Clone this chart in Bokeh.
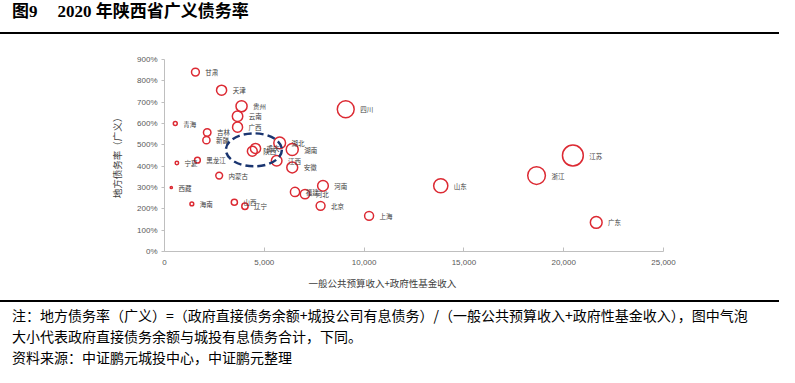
import math
from bokeh.plotting import figure
from bokeh.models import (Range1d, FixedTicker, NumeralTickFormatter, Title, Div,
                          ColumnDataSource)
from bokeh.layouts import column
from bokeh.embed import file_html
from bokeh.resources import INLINE
from bokeh.core.properties import value

# ---------------- data ----------------
provinces = ["甘肃", "天津", "贵州", "云南", "广西", "四川", "青海", "吉林", "新疆",
             "宁夏", "黑龙江", "内蒙古", "西藏", "海南", "山西", "辽宁", "陕西", "重庆",
             "湖北", "湖南", "江西", "安徽", "河南", "福建", "河北", "北京", "上海",
             "山东", "浙江", "江苏", "广东"]
# 一般公共预算收入+政府性基金收入（亿元）
income = [1550, 2860, 3860, 3660, 3660, 9080, 540, 2140, 2100,
          620, 1650, 2740, 340, 1370, 3500, 4030, 4400, 4560,
          5770, 6400, 5620, 6400, 7940, 6540, 7040, 7820, 10250,
          13840, 18640, 20460, 21630]
# 地方债务率（广义）
debt_ratio = [8.41, 7.56, 6.81, 6.34, 5.83, 6.67, 6.00, 5.58, 5.22,
              4.15, 4.28, 3.56, 3.00, 2.23, 2.31, 2.12, 4.70, 4.83,
              5.09, 4.78, 4.25, 3.94, 3.08, 2.79, 2.69, 2.14, 1.67,
              3.08, 3.56, 4.50, 1.36]
# 政府直接债务余额与城投有息债务合计（亿元，气泡大小）
debt_total = [13036, 21622, 26287, 23204, 21338, 60564, 3240, 11941, 10962,
              2573, 7062, 9754, 1020, 3055, 8085, 8544, 20680, 22025,
              29369, 30592, 23885, 25216, 24455, 18247, 18938, 16735, 17118,
              42627, 66358, 92070, 29417]

x_ticks = [0, 5000, 10000, 15000, 20000, 25000]
y_ticks = [0, 1, 2, 3, 4, 5, 6, 7, 8, 9]

title_text = "2020 年陕西省广义债务率"
fig_no = "图9"
x_title = "一般公共预算收入+政府性基金收入"
y_title = "地方债务率（广义）"
note_lines = [
    "注：地方债务率（广义）=（政府直接债务余额+城投公司有息债务）/（一般公共预算收入+政府性基金收入），图中气泡",
    "大小代表政府直接债务余额与城投有息债务合计，下同。",
    "资料来源：中证鹏元城投中心，中证鹏元整理",
]
highlight = ["陕西", "重庆"]

# ---------------- derived drawing columns ----------------
radius_px = [math.sqrt(d / 850.0) for d in debt_total]
src = ColumnDataSource(dict(
    x=income, y=debt_ratio, name=provinces,
    size=[2 * r for r in radius_px],
    xoff=[r + 6 for r in radius_px],
))

RED = "#dc2a33"
CJK = "Noto Sans CJK SC"
W = 779

p = figure(width=W, height=266, x_range=Range1d(0, 25000), y_range=Range1d(0, 9),
           output_backend="svg", toolbar_location=None,
           min_border_left=164, min_border_right=W - 663, min_border_top=25,
           min_border_bottom=49, margin=(0, 0, 0, 0))
p.outline_line_color = None
p.background_fill_color = "white"
p.border_fill_color = "white"
p.xgrid.visible = False
p.ygrid.visible = False

p.scatter("x", "y", size="size", marker="circle", source=src,
          fill_color=None, line_color=RED, line_width=1.5)
p.text("x", "y", text="name", x_offset="xoff", source=src,
       text_baseline="middle", text_align="left", text_font_size="6.5px",
       text_color="#404040", text_font=value(CJK))

hi = [provinces.index(n) for n in highlight]
cx = sum(income[i] for i in hi) / len(hi)
cy = sum(debt_ratio[i] for i in hi) / len(hi)
p.ellipse(x=[cx], y=[cy], width=56, height=33, width_units="screen",
          height_units="screen", fill_color=None, line_color="#1a3570",
          line_width=2.5, line_dash="8 4")

# axes
xa = p.xaxis[0]
xa.ticker = FixedTicker(ticks=x_ticks)
xa.formatter = NumeralTickFormatter(format="0,0")
xa.axis_line_color = "#bfbfbf"
xa.major_tick_line_color = "#bfbfbf"
xa.major_tick_in = 4
xa.major_tick_out = 0
xa.minor_tick_line_color = None
xa.major_label_text_font_size = "8px"
xa.major_label_text_color = "#595959"
xa.major_label_text_font = "Liberation Sans"
xa.major_label_standoff = 8

ya = p.yaxis[0]
ya.ticker = FixedTicker(ticks=y_ticks)
ya.formatter = NumeralTickFormatter(format="0%")
ya.axis_line_color = "#bfbfbf"
ya.major_tick_line_color = "#bfbfbf"
ya.major_tick_in = 0
ya.major_tick_out = 3
ya.minor_tick_line_color = None
ya.major_label_text_font_size = "8px"
ya.major_label_text_color = "#595959"
ya.major_label_text_font = "Liberation Sans"
ya.major_label_standoff = 4
ya.axis_label = y_title
ya.axis_label_text_font = CJK
ya.axis_label_text_font_size = "9.5px"
ya.axis_label_text_font_style = "normal"
ya.axis_label_text_color = "#404040"
ya.axis_label_standoff = 10

xt = Title(text=x_title, align="left", offset=144, text_font=CJK,
           text_font_size="9.5px", text_font_style="normal",
           text_color="#404040", standoff=12)
p.add_layout(xt, "below")

title_html = (
    '<div style="box-sizing:border-box;width:%dpx;height:34px;border-bottom:2px solid #000;'
    'padding-left:12px;white-space:nowrap;font-family:\'Liberation Serif\',\'Noto Sans CJK SC\';'
    'font-weight:bold;font-size:17px;line-height:24px;color:#000;">' % W
    + fig_no + '<span style="display:inline-block;width:20px"></span>' + title_text + '</div>'
)
title_div = Div(text=title_html, width=W, height=34, margin=(0, 0, 0, 0))

notes_html = (
    '<div style="box-sizing:border-box;width:%dpx;height:67px;border-top:2px solid #000;'
    'padding:3px 0 0 12px;white-space:nowrap;overflow:hidden;font-family:\'Noto Sans CJK SC\';'
    'font-size:14px;line-height:21px;color:#000;">' % W
    + "<br>".join(note_lines) + '</div>'
)
notes_div = Div(text=notes_html, width=W, height=67, margin=(0, 0, 0, 0))

layout = column(title_div, p, notes_div, spacing=0, margin=(0, 0, 0, 0))

open("out.html", "w").write(file_html(layout, INLINE))
